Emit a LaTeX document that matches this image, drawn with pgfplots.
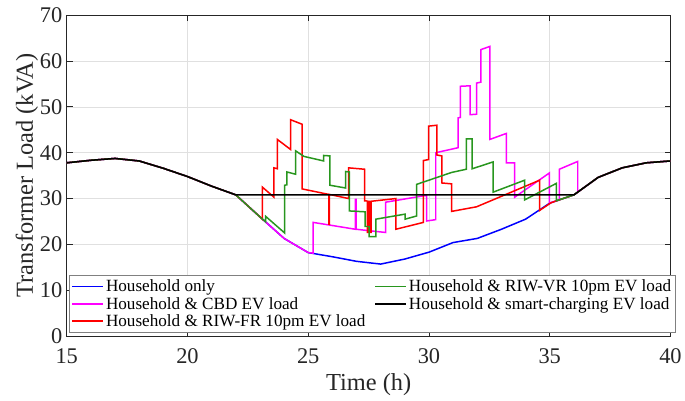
\documentclass[border=0pt]{standalone}
\usepackage{fontspec}
\setmainfont{Liberation Serif}
\usepackage{pgfplots}
\pgfplotsset{compat=1.18}
\definecolor{mgreen}{RGB}{40,150,30}
\definecolor{mmag}{rgb}{1,0,1}
\definecolor{axgray}{RGB}{38,38,38}
\begin{document}
\begin{tikzpicture}
\begin{axis}[
 scale only axis, width=606pt, height=322pt,
 xmin=15, xmax=40, ymin=0, ymax=70,
 xtick={15,20,...,40}, ytick={0,10,...,70},
 grid=major, major grid style={draw=black!12, line width=0.6pt},
 axis line style={draw=axgray, line width=0.8pt},
 tick style={draw=axgray, line width=0.8pt}, major tick length=6pt,
 tick align=inside, tick pos=both,
 /pgf/number format/assume math mode=true,
 ticklabel style={font=\rmfamily\fontsize{22.5}{24}\selectfont, text=axgray},
 xticklabel style={yshift=-9pt},
 yticklabel style={xshift=-1pt},
 xlabel={Time (h)}, ylabel={Transformer Load (kVA)},
 every axis x label/.style={at={(axis description cs:0.5,-0.152)}, anchor=center, font=\rmfamily\fontsize{24.5}{26}\selectfont, text=axgray},
 every axis y label/.style={at={(axis description cs:-0.066,0.5)}, anchor=center, rotate=90, font=\rmfamily\fontsize{24.5}{26}\selectfont, text=axgray},
 legend columns=3, transpose legend,
 legend style={at={(axis description cs:0.003,0.01)}, anchor=south west, font=\rmfamily\fontsize{17.2}{18}\selectfont, draw=gray, line width=0.8pt, /tikz/every even column/.append style={column sep=7pt}, inner sep=2.5pt, cells={anchor=west}},
 legend image code/.code={\draw[#1, line width=1.7pt] (0pt,0pt) -- (31pt,0pt);},
 every axis plot/.append style={line width=1.5pt},
]
\addplot[blue] coordinates {(15,37.8) (16,38.35) (17,38.75) (18,38.2) (19,36.6) (20,34.8) (21,32.7) (22,30.8)
 (23,26.0) (24,21.3) (25,18.2) (26,17.3) (27,16.3) (28,15.7) (29,16.8) (30,18.3) (31,20.4) (32,21.3) (33,23.3) (34,25.5) (35,29.0)
 (36,30.8) (37,34.6) (38,36.7) (39,37.8) (40,38.2)};
\addlegendentry{Household only}
\addplot[mmag] coordinates {(15,37.8) (16,38.35) (17,38.75) (18,38.2) (19,36.6) (20,34.8) (21,32.7) (22,30.8)
 (23,26.0) (24,21.3) (25,18.2) (25.2,18.1) (25.2,24.8) (26.95,23.3) (26.95,29.8) (26.98,29.8) (26.98,23.3) (28.2,22.6) (28.2,29.2)
 (29.9,30.7) (29.9,25.1) (30.28,25.4) (30.28,40.0) (31.21,41.1) (31.21,47.6) (31.3,47.7) (31.3,54.5) (31.7,54.6) (31.7,48.3)
 (31.97,48.4) (31.97,55.2) (32.15,55.4) (32.15,62.5) (32.52,63.2) (32.52,42.9) (33.2,44.2) (33.2,37.8) (33.55,37.8) (33.55,30.3)
 (34.99,35.6) (34.99,29.0) (35.4,29.7) (35.4,36.4) (36.16,38.1) (36.16,31.4) (37,34.6) (38,36.7) (39,37.8) (40,38.2)};
\addlegendentry{Household \& CBD EV load}
\addplot[red] coordinates {(15,37.8) (16,38.35) (17,38.75) (18,38.2) (19,36.6) (20,34.8) (21,32.7) (22,30.8)
 (23,26.0) (23.1,25.5) (23.1,32.5) (23.58,30.3) (23.58,36.7) (23.72,36.5) (23.72,42.9) (24.27,40.7) (24.27,47.2) (24.75,46.2)
 (24.75,32.1) (25.85,30.9) (25.85,24.4) (25.88,24.4) (25.88,30.9) (26.67,30.0) (26.67,36.7) (27.33,36.4) (27.33,29.5)
 (27.45,29.45) (27.45,22.6) (27.5,22.6) (27.5,29.4) (27.55,29.4) (27.55,22.6) (27.6,22.6) (27.6,29.4) (28.63,30.0) (28.63,23.3)
 (29.77,24.8) (29.77,38.3) (29.98,38.5) (29.98,45.8) (30.33,46.0) (30.33,39.5) (30.53,39.3) (30.53,33.4) (30.94,33.2) (30.94,27.2)
 (31.97,28.2) (34.58,34.0) (34.58,27.4) (35.06,29.1)
 (36,30.8) (37,34.6) (38,36.7) (39,37.8) (40,38.2)};
\addlegendentry{Household \& RIW-FR 10pm EV load}
\addplot[mgreen] coordinates {(15,37.8) (16,38.35) (17,38.75) (18,38.2) (19,36.6) (20,34.8) (21,32.7) (22,30.8)
 (23,26.0) (23.24,24.9) (23.24,26.1) (24.02,22.5) (24.02,32.9) (24.12,33.0) (24.12,35.8) (24.48,35.3) (24.48,40.4) (24.82,39.2)
 (25.64,38.2) (25.64,39.4) (25.9,39.3) (25.9,32.9) (26.55,32.3) (26.55,35.9) (26.7,35.8) (26.7,27.3) (27.36,27.1) (27.36,23.9)
 (27.52,23.9) (27.52,21.7) (27.8,21.7) (27.8,25.5) (29.01,26.6) (29.01,25.5) (29.49,26.2) (29.49,33.1) (30.94,35.7) (31.55,36.4)
 (31.55,43.0) (31.79,43.0) (31.79,36.5) (32.66,38.0) (32.66,31.4) (33.96,34.0) (33.96,29.7) (35.27,33.3) (35.27,29.5)
 (36,30.8) (37,34.6) (38,36.7) (39,37.8) (40,38.2)};
\addlegendentry{Household \& RIW-VR 10pm EV load}
\addplot[black] coordinates {(15,37.8) (16,38.35) (17,38.75) (18,38.2) (19,36.6) (20,34.8) (21,32.7) (22,30.8)
 (36,30.8) (37,34.6) (38,36.7) (39,37.8) (40,38.2)};
\addlegendentry{Household \& smart-charging EV load}
\end{axis}
\path ([shift={(-67pt,-65pt)}]current axis.south west) rectangle ([shift={(12pt,15.3pt)}]current axis.north east);
\end{tikzpicture}
\end{document}
